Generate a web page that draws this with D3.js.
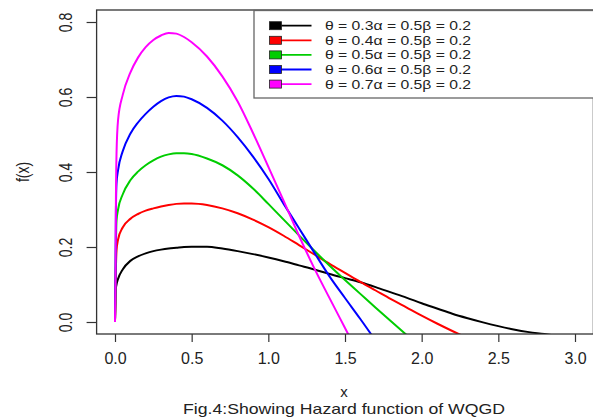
<!DOCTYPE html>
<html>
<head>
<meta charset="utf-8">
<script src="https://cdn.jsdelivr.net/npm/d3@7"></script>
<style>
  body { margin: 0; background: #fff; }
  text { font-family: "Liberation Sans", Arial, sans-serif; fill: #222; }
</style>
</head>
<body>
<div id="chart"></div>
<script>
// x positions shared by all the curves
var xs = [0, 0.003, 0.006, 0.01, 0.02, 0.05, 0.1, 0.15, 0.2, 0.25, 0.3, 0.35, 0.4, 0.45, 0.5,
  0.6, 0.7, 0.8, 0.9, 1.0, 1.1, 1.2, 1.3, 1.4, 1.5, 1.6, 1.7, 1.8, 1.9, 2.0,
  2.1, 2.2, 2.3, 2.4, 2.5, 2.6, 2.7, 2.8, 2.85];

// f(x) (null = curve already left the plot)
var theta03 = [0, 0.07, 0.09, 0.10, 0.115, 0.14, 0.163, 0.175, 0.183, 0.189, 0.193, 0.196, 0.198, 0.200, 0.201,
  0.201, 0.196, 0.189, 0.181, 0.172, 0.162, 0.151, 0.140, 0.128, 0.117, 0.106, 0.093, 0.079, 0.065, 0.050,
  0.036, 0.022, 0.010, -0.001, -0.011, -0.020, -0.027, -0.032, -0.035];
var theta04 = [0, 0.05, 0.14, 0.19, 0.22, 0.252, 0.275, 0.288, 0.297, 0.303, 0.308, 0.312, 0.315, 0.316, 0.316,
  0.312, 0.303, 0.290, 0.273, 0.253, 0.230, 0.205, 0.180, 0.155, 0.131, 0.107, 0.084, 0.061, 0.039, 0.017,
  -0.004, -0.024, -0.043, null, null, null, null, null, null];
var theta05 = [0, 0.08, 0.20, 0.27, 0.30, 0.340, 0.378, 0.401, 0.418, 0.431, 0.441, 0.447, 0.450, 0.450, 0.448,
  0.436, 0.418, 0.391, 0.356, 0.315, 0.273, 0.231, 0.190, 0.150, 0.112, 0.075, 0.038, 0.002, -0.034, -0.07,
  null, null, null, null, null, null, null, null, null];
var theta06 = [0, 0.12, 0.30, 0.37, 0.405, 0.455, 0.502, 0.532, 0.555, 0.574, 0.589, 0.599, 0.603, 0.601, 0.594,
  0.571, 0.537, 0.493, 0.441, 0.382, 0.315, 0.250, 0.185, 0.121, 0.064, 0.008, -0.050, null, null, null,
  null, null, null, null, null, null, null, null, null];
var theta07 = [0, 0.10, 0.33, 0.45, 0.539, 0.605, 0.665, 0.705, 0.733, 0.752, 0.764, 0.771, 0.769, 0.760, 0.746,
  0.708, 0.655, 0.588, 0.504, 0.414, 0.323, 0.230, 0.143, 0.063, -0.016, -0.095, null, null, null, null,
  null, null, null, null, null, null, null, null, null];

var legendLabels = ['\u03b8 = 0.3\u03b1 = 0.5\u03b2 = 0.2', '\u03b8 = 0.4\u03b1 = 0.5\u03b2 = 0.2',
  '\u03b8 = 0.5\u03b1 = 0.5\u03b2 = 0.2', '\u03b8 = 0.6\u03b1 = 0.5\u03b2 = 0.2', '\u03b8 = 0.7\u03b1 = 0.5\u03b2 = 0.2'];
var colors = ['#000000', '#ff0000', '#00cd00', '#0000ff', '#ff00ff'];
var xTicks = [0, 0.5, 1.0, 1.5, 2.0, 2.5, 3.0];
var yTicks = [0, 0.2, 0.4, 0.6, 0.8];

var series = [theta03, theta04, theta05, theta06, theta07].map(function(vals, i) {
  return {
    label: legendLabels[i],
    color: colors[i],
    points: xs.map(function(x, j) { return {x: x, y: vals[j]}; })
  };
});

var width = 593, height = 418;

var svg = d3.select('#chart').append('svg')
  .attr('width', width)
  .attr('height', height);

// R style ranges: xlim c(0,3), ylim c(0,0.8) widened by 4%
var x = d3.scaleLinear().domain([-0.12, 3.12]).range([96.6, 593.4]);
var y = d3.scaleLinear().domain([-0.032, 0.832]).range([334, 10]);

svg.append('clipPath').attr('id', 'plotClip')
  .append('rect')
  .attr('x', x.range()[0]).attr('y', y.range()[1])
  .attr('width', x.range()[1] - x.range()[0])
  .attr('height', y.range()[0] - y.range()[1]);

/////////////////// curves ///////////////////
var line = d3.line()
  .defined(function(d) { return d.y !== null; })
  .x(function(d) { return x(d.x); })
  .y(function(d) { return y(d.y); })
  .curve(d3.curveMonotoneX);

svg.append('g').attr('clip-path', 'url(#plotClip)')
  .selectAll('path')
  .data(series)
  .enter()
  .append('path')
  .attr('d', function(d) { return line(d.points); })
  .style('fill', 'none')
  .style('stroke', function(d) { return d.color; })
  .style('stroke-width', 2);

/////////////////// box & axes ///////////////////
svg.append('rect')
  .attr('x', x.range()[0]).attr('y', y.range()[1])
  .attr('width', x.range()[1] - x.range()[0])
  .attr('height', y.range()[0] - y.range()[1])
  .style('fill', 'none')
  .style('stroke', '#333')
  .style('stroke-width', 1.3);

var xAxis = svg.append('g')
  .attr('transform', 'translate(0,' + y.range()[0] + ')')
  .call(d3.axisBottom(x).tickValues(xTicks).tickSize(8).tickFormat(d3.format('.1f')));
xAxis.select('.domain').remove();
xAxis.selectAll('line').style('stroke', '#333').style('stroke-width', 1.2);
xAxis.selectAll('text')
  .attr('y', 30).attr('dy', 0)
  .style('font-size', '16px');

var yAxis = svg.append('g')
  .attr('transform', 'translate(' + x.range()[0] + ',0)')
  .call(d3.axisLeft(y).tickValues(yTicks).tickSize(10).tickFormat(d3.format('.1f')));
yAxis.select('.domain').remove();
yAxis.selectAll('line').style('stroke', '#333').style('stroke-width', 1.2);
yAxis.selectAll('text')
  .attr('x', null).attr('dy', null)
  .attr('text-anchor', 'middle')
  .attr('transform', 'translate(-24.6,0) rotate(-90) scale(1,1.35)')
  .style('font-size', '14px');

// axis titles and caption
svg.append('text')
  .attr('transform', 'translate(29,172) rotate(-90) scale(1,1.35)')
  .attr('text-anchor', 'middle')
  .style('font-size', '14px')
  .text('f(x)');

svg.append('text')
  .attr('x', 344).attr('y', 397)
  .attr('text-anchor', 'middle')
  .style('font-size', '15px')
  .text('x');

svg.append('text')
  .attr('x', 344).attr('y', 414)
  .attr('text-anchor', 'middle')
  .attr('textLength', 322)
  .attr('lengthAdjust', 'spacingAndGlyphs')
  .style('font-size', '15px')
  .text('Fig.4:Showing Hazard function of WQGD');

/////////////////// legend ///////////////////
var legend = svg.append('g');
legend.append('rect')
  .attr('x', 254).attr('y', 10.5)
  .attr('width', 360).attr('height', 87.5)
  .style('fill', '#fff')
  .style('stroke', '#666')
  .style('stroke-width', 1.3);

var rows = legend.selectAll('.row')
  .data(series)
  .enter()
  .append('g')
  .attr('class', 'row')
  .attr('transform', function(d, i) { return 'translate(0,' + (25.7 + i * 14.6) + ')'; });

rows.append('line')
  .attr('x1', 276).attr('x2', 311.5)
  .style('stroke', function(d) { return d.color; })
  .style('stroke-width', 1.8);

rows.append('rect')
  .attr('x', 269.5).attr('y', -4)
  .attr('width', 12).attr('height', 8)
  .style('fill', function(d) { return d.color; })
  .style('stroke', '#222')
  .style('stroke-width', 0.8);

rows.append('text')
  .attr('x', 325).attr('y', 4.5)
  .attr('textLength', 146)
  .attr('lengthAdjust', 'spacingAndGlyphs')
  .style('font-size', '13px')
  .text(function(d) { return d.label; });
</script>
</body>
</html>
